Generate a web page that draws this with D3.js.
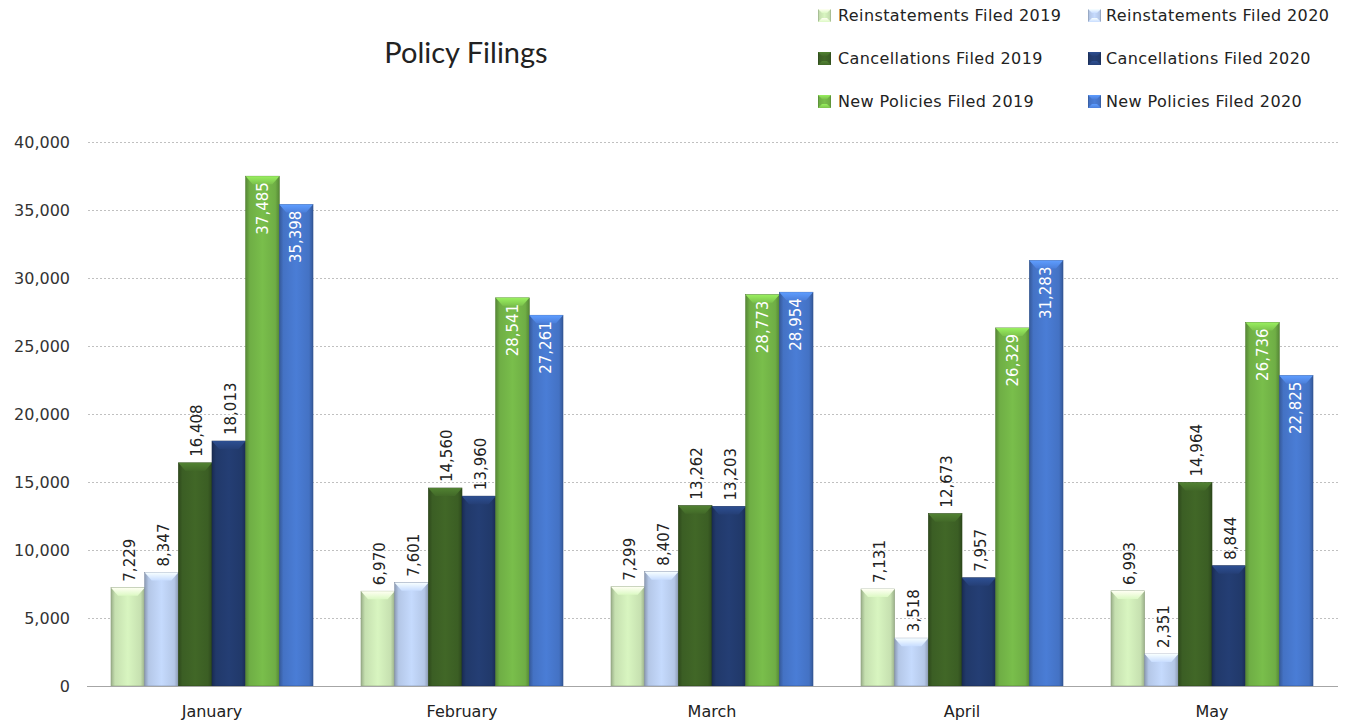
<!DOCTYPE html>
<html>
<head>
<meta charset="utf-8">
<script src="https://cdn.jsdelivr.net/npm/d3@7"></script>
<style>
  body { margin: 0; background: #fff; }
  svg { display: block; }
</style>
</head>
<body>
<svg id="chart" width="1346" height="725"></svg>
<script>
const months = ["January", "February", "March", "April", "May"];
const seriesNames = [
  "Reinstatements Filed 2019", "Reinstatements Filed 2020",
  "Cancellations Filed 2019", "Cancellations Filed 2020",
  "New Policies Filed 2019", "New Policies Filed 2020"
];
const reinstatements2019 = [7229, 6970, 7299, 7131, 6993];
const reinstatements2020 = [8347, 7601, 8407, 3518, 2351];
const cancellations2019 = [16408, 14560, 13262, 12673, 14964];
const cancellations2020 = [18013, 13960, 13203, 7957, 8844];
const newPolicies2019 = [37485, 28541, 28773, 26329, 26736];
const newPolicies2020 = [35398, 27261, 28954, 31283, 22825];
const yTicks = [0, 5000, 10000, 15000, 20000, 25000, 30000, 35000, 40000];

const seriesValues = [reinstatements2019, reinstatements2020, cancellations2019,
  cancellations2020, newPolicies2019, newPolicies2020];
const colors = ["#c6e0b0", "#b4c7e7", "#3b5e24", "#21396a", "#6fae45", "#4472c4"];
// labels inside the bar end (white) for the new policies series
const insideLabel = [false, false, false, false, true, true];

const svg = d3.select("#chart");
const plotLeft = 87, plotRight = 1337, plotTop = 142, plotBottom = 686;
const font = "'DejaVu Sans', Verdana, sans-serif";

const x0 = d3.scaleBand().domain(months).range([plotLeft, plotRight])
  .paddingInner(0.192).paddingOuter(0.096);
const x1 = d3.scaleBand().domain(d3.range(seriesNames.length)).range([0, x0.bandwidth()]);
const y = d3.scaleLinear().domain([0, 40000]).range([plotBottom, plotTop]);
const fmt = d3.format(",");

// gradients
const defs = svg.append("defs");
colors.forEach((c, i) => {
  const g = defs.append("linearGradient").attr("id", "bar" + i)
    .attr("x1", 0).attr("x2", 1).attr("y1", 0).attr("y2", 0);
  const dark = d3.color(c).darker(0.7), light = d3.color(c).brighter(0.25);
  g.append("stop").attr("offset", "0%").attr("stop-color", dark);
  g.append("stop").attr("offset", "12%").attr("stop-color", c);
  g.append("stop").attr("offset", "50%").attr("stop-color", light);
  g.append("stop").attr("offset", "88%").attr("stop-color", c);
  g.append("stop").attr("offset", "100%").attr("stop-color", dark);
  const t = defs.append("linearGradient").attr("id", "top" + i)
    .attr("x1", 0).attr("x2", 0).attr("y1", 0).attr("y2", 1);
  t.append("stop").attr("offset", "0%").attr("stop-color", d3.color(c).brighter(0.9));
  t.append("stop").attr("offset", "100%").attr("stop-color", d3.color(c).brighter(0.3));
});

// gridlines
svg.append("g").selectAll("line").data(yTicks.filter(d => d > 0)).enter().append("line")
  .attr("x1", plotLeft + 1).attr("x2", plotRight + 1)
  .attr("y1", d => y(d) + 0.5).attr("y2", d => y(d) + 0.5)
  .attr("stroke", "#c0c0c0").attr("stroke-dasharray", "2,2");

// y tick labels
svg.append("g").selectAll("text").data(yTicks).enter().append("text")
  .attr("x", 70).attr("y", d => y(d)).attr("dy", "0.35em")
  .attr("text-anchor", "end")
  .attr("font-family", font).attr("font-size", 16)
  .attr("fill", "#333").text(d => fmt(d));

// bars
const groups = svg.append("g").selectAll("g").data(months).enter().append("g")
  .attr("transform", d => `translate(${x0(d)},0)`);

groups.each(function (m, mi) {
  const g = d3.select(this);
  seriesValues.forEach((vals, si) => {
    const v = vals[mi];
    const bx = x1(si), bw = x1.bandwidth(), by = y(v), bh = plotBottom - y(v);
    g.append("rect").attr("x", bx).attr("y", by).attr("width", bw).attr("height", bh)
      .attr("fill", `url(#bar${si})`)
      .attr("stroke", d3.color(colors[si]).darker(0.9)).attr("stroke-width", 0.6);
    const bev = 8, inset = 7;
    g.append("polygon")
      .attr("points", [[bx, by], [bx + bw, by], [bx + bw - inset, by + bev], [bx + inset, by + bev]].join(" "))
      .attr("fill", `url(#top${si})`);

    const cx = bx + bw / 2;
    const lbl = g.append("text")
      .attr("font-family", font).attr("font-size", 15)
      .attr("dy", "0.35em").text(fmt(v));
    if (insideLabel[si]) {
      lbl.attr("transform", `translate(${cx},${by + 6}) rotate(-90)`)
        .attr("text-anchor", "end").attr("fill", "#fff");
    } else {
      lbl.attr("transform", `translate(${cx + 2},${by - 6}) rotate(-90)`)
        .attr("text-anchor", "start").attr("fill", "#222");
    }
  });
});

// baseline
svg.append("line").attr("x1", plotLeft).attr("x2", plotRight + 1)
  .attr("y1", plotBottom + 0.5).attr("y2", plotBottom + 0.5).attr("stroke", "#a6a6a6");

// month labels
svg.append("g").selectAll("text").data(months).enter().append("text")
  .attr("x", d => x0(d) + x0.bandwidth() / 2).attr("y", 711).attr("dy", "0.35em")
  .attr("text-anchor", "middle")
  .attr("font-family", font).attr("font-size", 16)
  .attr("fill", "#222").text(d => d);

// title
svg.append("text").attr("x", 466).attr("y", 63)
  .attr("text-anchor", "middle")
  .attr("font-family", "Lato, 'Open Sans', sans-serif").attr("font-size", 29)
  .attr("fill", "#222").text("Policy Filings");

// legend
const legendPos = [[818, 15], [1088, 15], [818, 58], [1088, 58], [818, 101], [1088, 101]];
const legend = svg.append("g").selectAll("g").data(seriesNames).enter().append("g")
  .attr("transform", (d, i) => `translate(${legendPos[i][0]},${legendPos[i][1]})`);
legend.append("rect").attr("x", 0).attr("y", -6).attr("width", 13).attr("height", 13)
  .attr("fill", (d, i) => `url(#bar${i})`);
legend.append("polygon").attr("points", "0,-6 13,-6 9,-2 4,-2")
  .attr("fill", (d, i) => `url(#top${i})`);
legend.append("polygon").attr("points", "0,7 13,7 9,3 4,3")
  .attr("fill", (d, i) => `url(#top${i})`);
legend.append("text").attr("x", (d, i) => i % 2 ? 18 : 20).attr("y", 0).attr("dy", "0.35em")
  .attr("font-family", font).attr("font-size", 16).attr("letter-spacing", 0.4)
  .attr("fill", "#222").text(d => d);
</script>
</body>
</html>
